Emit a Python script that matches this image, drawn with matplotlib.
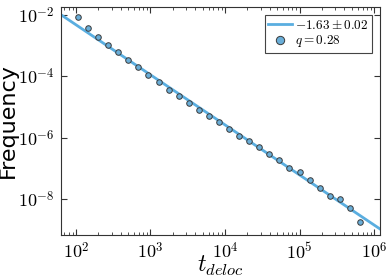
import numpy as np
import matplotlib
matplotlib.use("Agg")
import matplotlib.pyplot as plt
from matplotlib.ticker import FuncFormatter

plt.rcParams['mathtext.fontset'] = 'cm'
plt.rcParams['font.family'] = 'DejaVu Sans'

# delocalisation times (bin centres) and their frequencies
t_deloc = [106, 145, 198, 271, 369, 504, 688, 939, 1282, 1750,
           2389, 3261, 4451, 6076, 8295, 11324, 15453, 21090, 28780, 39280,
           53600, 73150, 99800, 136200, 185900, 253700, 346700, 473200, 645700]
freq = [8.81e-3, 3.78e-3, 1.93e-3, 1.04e-3, 5.97e-4, 3.38e-4, 2.00e-4, 1.13e-4,
        6.43e-5, 3.67e-5, 2.22e-5, 1.36e-5, 8.23e-6, 5.26e-6, 3.19e-6, 1.85e-6,
        1.15e-6, 7.53e-7, 4.92e-7, 3.00e-7, 1.91e-7, 1.05e-7, 7.41e-8, 4.17e-8,
        2.36e-8, 1.26e-8, 9.86e-9, 5.14e-9, 1.86e-9]

# power-law fit
slope = -1.63
slope_err = 0.02
log_amp = 0.937
q = 0.28

xlim = (63, 1.2e6)
ylim = (1.8e-2, 6.8e-10)

fig = plt.figure(figsize=(3.87, 2.76), dpi=100)
ax = fig.add_axes([0.1576, 0.1486, 0.8244, 0.826])

x_fit = np.array(xlim)
y_fit = 10 ** log_amp * x_fit ** slope
ax.plot(x_fit, y_fit, color='#5aaee0', lw=2,
        label=r'$%.2f \pm %.2f$' % (slope, slope_err), zorder=2)
ax.plot(t_deloc, freq, 'o', ms=4, mfc='#6aaed8', mec='#3a3a3a', mew=0.7,
        label=r'$q = %.2f$' % q, zorder=3)

ax.set_xscale('log')
ax.set_yscale('log')
ax.set_xlim(*xlim)
ax.set_ylim(ylim[1], ylim[0])

def pow10(v, pos):
    return r'$10^{%d}$' % round(np.log10(v))

ax.xaxis.set_major_formatter(FuncFormatter(pow10))
ax.yaxis.set_major_formatter(FuncFormatter(pow10))

ax.tick_params(which='both', direction='in', top=True, right=True,
               labelsize=13, color='#333333')
ax.tick_params(which='major', length=4, pad=5)
ax.tick_params(which='minor', length=2)
for s in ax.spines.values():
    s.set_color('#333333')

ax.set_xlabel(r'$t_{deloc}$', fontsize=17, labelpad=-6)
ax.set_ylabel('Frequency', fontsize=16)
ax.yaxis.set_label_coords(-0.135, 0.5)

leg = ax.legend(loc='upper right', fontsize=9.5, markerscale=1.5,
                fancybox=False, framealpha=1, edgecolor='#444444',
                handlelength=1.8, handletextpad=0.2, borderpad=0.3,
                labelspacing=0.1, borderaxespad=0.6)
leg.get_frame().set_linewidth(0.8)

fig.savefig('out.png', dpi=100)
